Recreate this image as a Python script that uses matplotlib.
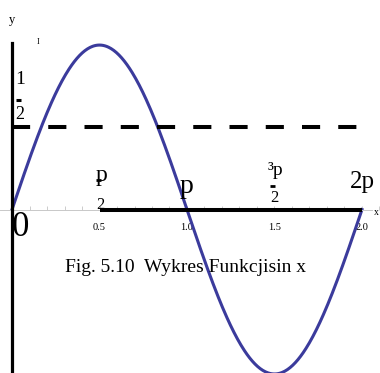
import numpy as np
import matplotlib.pyplot as plt
from matplotlib.ticker import MultipleLocator

# x is measured in units of pi, so 2.0 means 2p on the axis
x_start, x_end = 0.0, 2.0
x = np.linspace(x_start, x_end, 400)
y = np.sin(np.pi * x)

half_level = 0.5          # dashed line y = 1/2
thick_from = 0.5          # thick black part of the x axis
tick_values = [0.5, 1.0, 1.5, 2.0]
tick_labels = ['0.5', '1.0', '1.5', '2.0']

plt.rcParams['font.family'] = ['Liberation Serif', 'DejaVu Serif']

fig = plt.figure(figsize=(3.8, 3.73), dpi=100)
ax = fig.add_axes([0, 0, 1, 1])
ax.set_xlim(-0.0686, 2.1029)
ax.set_ylim(-0.994, 1.274)

# axes: only a thin grey x axis through y = 0
for side in ['top', 'right', 'left']:
    ax.spines[side].set_visible(False)
ax.spines['bottom'].set_position(('data', 0))
ax.spines['bottom'].set_color('#c8c8c8')
ax.spines['bottom'].set_linewidth(0.7)
ax.spines['bottom'].set_bounds(-0.0686, 2.058)
ax.set_yticks([])
ax.set_xticks(tick_values)
ax.set_xticklabels(tick_labels)
ax.xaxis.set_minor_locator(MultipleLocator(0.1))
ax.tick_params(axis='x', which='both', direction='in', length=3,
               color='#cccccc', width=0.7, labelsize=7.5, pad=10)

ax.plot(x, y, color='#3b3b9c', lw=2.2, zorder=2)
ax.plot([x_start, x_end], [half_level, half_level], color='black', lw=2.9,
        dashes=(4.5, 4.5), zorder=3)
ax.plot([thick_from, x_end], [0, 0], color='black', lw=2.9, zorder=3,
        solid_capstyle='butt')
ax.plot([0, 0], [1.012, -0.994], color='black', lw=2.3, zorder=3)

# labels written in the Symbol-font style (p stands for pi)
ax.text(0.0, 1.152, 'y', fontsize=9, ha='center', va='center')
ax.text(0.149, 1.018, 'I', fontsize=6, ha='center', va='center')

# 1/2 next to the dashed line
ax.text(0.046, 0.79, '1', fontsize=14, ha='center', va='center')
ax.hlines(0.665, 0.023, 0.051, color='black', lw=2.2)
ax.text(0.046, 0.58, '2', fontsize=13, ha='center', va='center')

# p/2
ax.text(0.514, 0.207, 'p', fontsize=17, ha='center', va='center')
ax.hlines(0.177, 0.481, 0.509, color='black', lw=2.0)
ax.text(0.503, 0.03, '2', fontsize=12, ha='center', va='center')

# p
ax.text(1.0, 0.14, 'p', fontsize=20, ha='center', va='center')

# 3p/2
ax.text(1.503, 0.235, '\u00b3p', fontsize=14, ha='center', va='center')
ax.hlines(0.142, 1.472, 1.503, color='black', lw=2.0)
ax.text(1.497, 0.07, '2', fontsize=12, ha='center', va='center')

ax.text(2.0, 0.165, '2p', fontsize=18, ha='center', va='center')
ax.text(0.046, -0.11, '0', fontsize=25, ha='center', va='center')
ax.text(2.097, -0.018, 'x', fontsize=7, ha='right', va='center')

ax.text(0.994, -0.354, 'Fig. 5.10  Wykres Funkcjisin x', fontsize=14,
        ha='center', va='center')

fig.savefig('out.png', dpi=100)
